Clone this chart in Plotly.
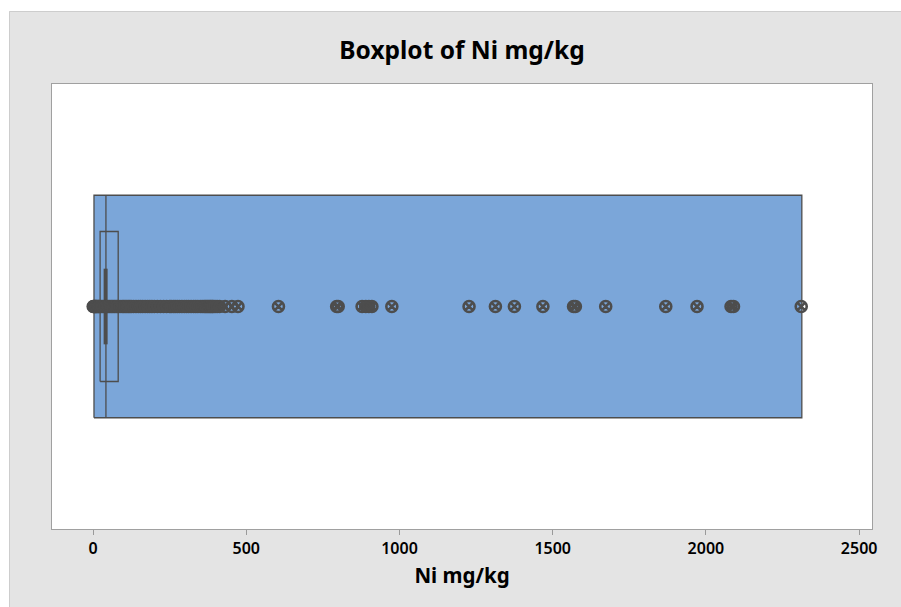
import plotly.graph_objects as go

# ---- data ----
box_range = [3, 2313]          # large filled box: min .. max
median_val = 42
iqr_box = [23, 82]             # inner box outline
median_ci = [41, 41]           # thick median segment
outliers = [0.5, 2, 4, 6, 8, 10, 12, 15, 18, 20, 25, 30, 35, 40, 45, 50, 55, 60,
            65, 70, 75, 80, 88, 95, 100, 105, 110, 115, 120, 125, 132, 140, 148,
            155, 162, 170, 178, 185, 192, 200, 210, 220, 230, 240, 250, 255, 262,
            268, 275, 282, 290, 298, 305, 312, 320, 328, 335, 342, 350, 356, 362,
            366, 370, 374, 378, 382, 385, 389, 392, 398, 405, 413, 431, 453,
            473, 605, 795, 800, 878, 890, 900, 910, 975, 1227, 1313, 1375, 1468,
            1568, 1574, 1673, 1869, 1971, 2082, 2090, 2311]
x_ticks = [0, 500, 1000, 1500, 2000, 2500]

DARK = "#4D4D4D"
BLUE = "#7BA6D9"
FONT = "Noto Sans"

fig = go.Figure()

# large filled box
fig.add_trace(go.Scatter(
    x=[box_range[0], box_range[1], box_range[1], box_range[0], box_range[0]],
    y=[-0.5, -0.5, 0.5, 0.5, -0.5],
    mode="lines", fill="toself", fillcolor=BLUE,
    line=dict(color=DARK, width=1.3), hoverinfo="skip", showlegend=False))

# median line across big box
fig.add_trace(go.Scatter(
    x=[median_val, median_val], y=[-0.5, 0.5], mode="lines",
    line=dict(color=DARK, width=1.3), hoverinfo="skip", showlegend=False))

# inner box outline
fig.add_trace(go.Scatter(
    x=[iqr_box[0], iqr_box[1], iqr_box[1], iqr_box[0], iqr_box[0]],
    y=[-0.337, -0.337, 0.337, 0.337, -0.337],
    mode="lines", line=dict(color=DARK, width=1.3),
    hoverinfo="skip", showlegend=False))

# thick median segment
fig.add_trace(go.Scatter(
    x=median_ci, y=[-0.17, 0.17], mode="lines",
    line=dict(color=DARK, width=4), hoverinfo="skip", showlegend=False))

# outliers
fig.add_trace(go.Scatter(
    x=outliers, y=[0] * len(outliers), mode="markers",
    marker=dict(symbol="circle-x-open", size=11, color=DARK,
                line=dict(color=DARK, width=2.6)),
    showlegend=False))

W, H = 901, 607
L, R, T, B = 52, 29, 84, 78
pw, ph = W - L - R, H - T - B

def px_x(fx):
    return (fx - L) / pw

def px_y(fy):
    return (T + ph - fy) / ph

fig.update_layout(
    width=W, height=H,
    margin=dict(l=L, r=R, t=T, b=B, pad=0),
    paper_bgcolor="#E4E4E4", plot_bgcolor="white",
    title=dict(text="<b>Boxplot of Ni mg/kg</b>", x=(L + pw / 2) / W,
               xanchor="center", y=1 - 50 / H, yanchor="middle", yref="container",
               font=dict(family=FONT, size=24.5, color="black")),
    font=dict(family=FONT, color="black"),
    xaxis=dict(range=[-134, 2542], tickvals=x_ticks, ticks="outside", ticklen=5,
               tickcolor="#9A9A9A", tickwidth=1, showgrid=False, zeroline=False,
               showline=True, mirror=True, linecolor="#A0A0A0", linewidth=1,
               tickfont=dict(family=FONT, size=16, color="black", weight=600),
               title=dict(text="<b>Ni mg/kg</b>", standoff=10,
                          font=dict(family=FONT, size=20.5, color="black"))),
    yaxis=dict(range=[-1, 1], showticklabels=False, ticks="", showgrid=False,
               zeroline=False, showline=True, mirror=True, linecolor="#A0A0A0",
               linewidth=1),
    shapes=[
        dict(type="rect", xref="paper", yref="paper", layer="below",
             x0=px_x(0), x1=px_x(W + 2), y0=px_y(0), y1=px_y(11),
             fillcolor="white", line=dict(width=0)),
        dict(type="rect", xref="paper", yref="paper", layer="below",
             x0=px_x(0), x1=px_x(9), y0=px_y(0), y1=px_y(H + 2),
             fillcolor="white", line=dict(width=0)),
        dict(type="line", xref="paper", yref="paper", layer="below",
             x0=px_x(9.5), x1=px_x(W + 2), y0=px_y(11.5), y1=px_y(11.5),
             line=dict(color="#CDCDCD", width=1)),
        dict(type="line", xref="paper", yref="paper", layer="below",
             x0=px_x(9.5), x1=px_x(9.5), y0=px_y(11.5), y1=px_y(H + 2),
             line=dict(color="#CDCDCD", width=1)),
    ],
)

fig.write_html("out.html",
               config={"displayModeBar": False},
               post_script="document.body.style.margin='0';"
                           "document.body.style.overflow='hidden';")
